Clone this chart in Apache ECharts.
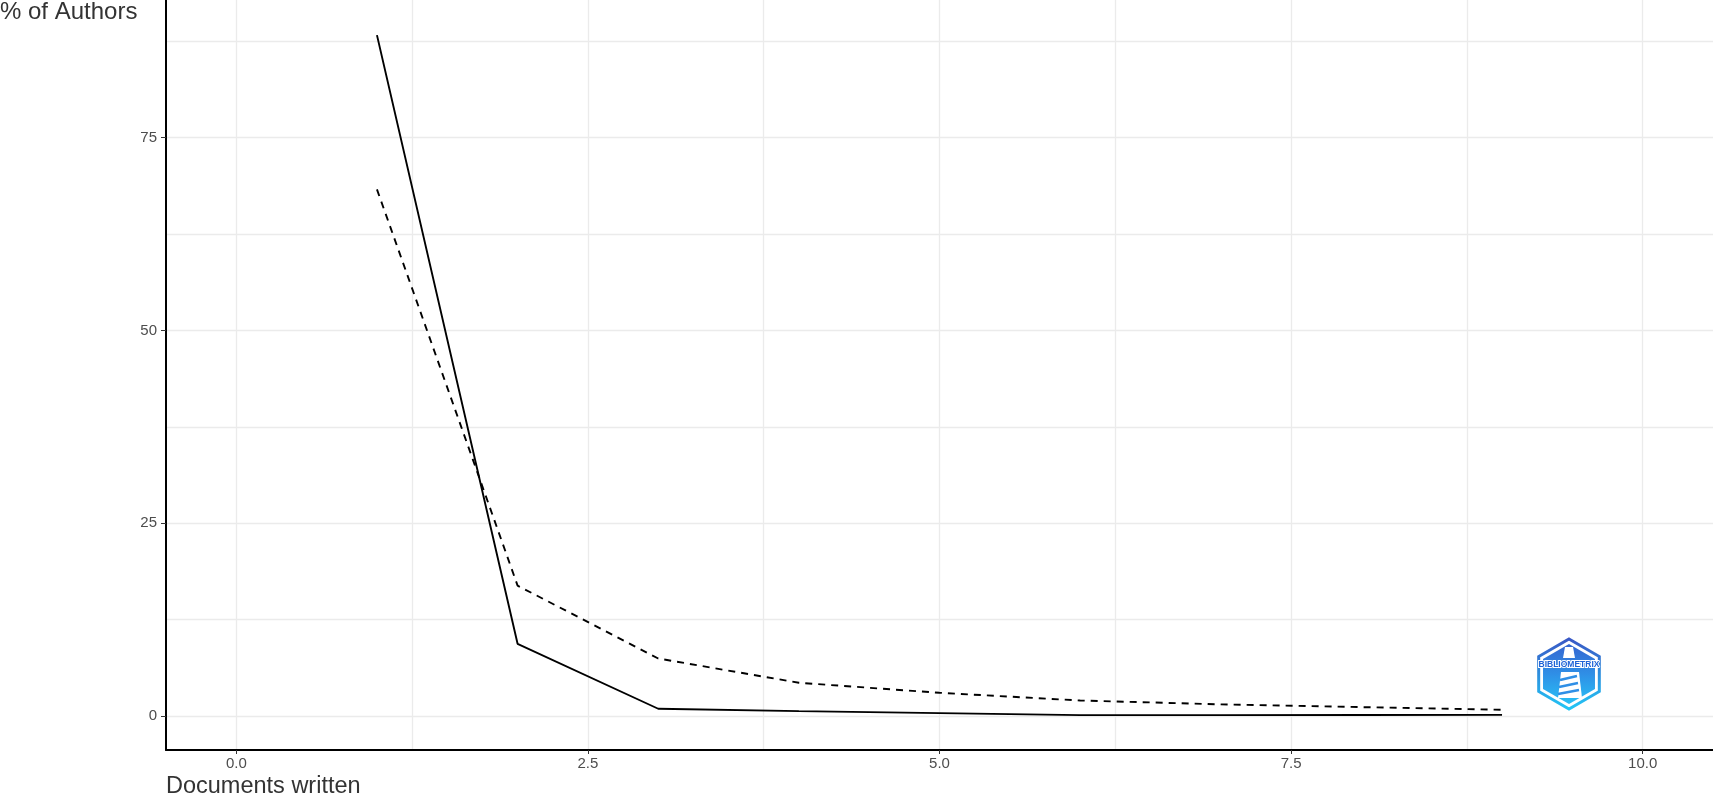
<!DOCTYPE html>
<html>
<head>
<meta charset="utf-8">
<script src="https://cdn.jsdelivr.net/npm/echarts@6/dist/echarts.min.js"></script>
<style>
html,body{margin:0;padding:0;background:#fff;}
#chart{width:1713px;height:797px;}
</style>
</head>
<body>
<div id="chart"></div>
<script>
// Data
const docsWritten = [1, 2, 3, 4, 5, 6, 7, 8, 9];
const observedPct = [88.3, 9.35, 0.93, 0.62, 0.36, 0.1, 0.1, 0.12, 0.14];
const theoreticalPct = [68.3, 16.9, 7.45, 4.3, 3.0, 2.0, 1.5, 1.14, 0.8];
const xTickValues = [0, 2.5, 5, 7.5, 10];
const yTickValues = [0, 25, 50, 75];
const xGridValues = [0, 1.25, 2.5, 3.75, 5, 6.25, 7.5, 8.75, 10];
const yGridValues = [0, 12.5, 25, 37.5, 50, 62.5, 75, 87.5];
const xTitle = 'Documents written';
const yTitle = '% of Authors';

const FONT = 'Arial, "Liberation Sans", sans-serif';
const chart = echarts.init(document.getElementById('chart'), null, {renderer: 'canvas'});

const pair = (xs, ys) => xs.map((x, i) => [x, ys[i]]);

// logo hexagon helper
function hex(cx, cy, r) {
  const pts = [];
  for (let k = 0; k < 6; k++) {
    const a = (-90 + 60 * k) * Math.PI / 180;
    pts.push([cx + r * Math.cos(a), cy + r * Math.sin(a)]);
  }
  return pts;
}
const LX = 1569, LY = 674;

const option = {
  animation: false,
  backgroundColor: '#ffffff',
  grid: {left: 166, right: 0, top: 0, bottom: 47, containLabel: false},
  xAxis: {
    type: 'value', min: -0.5, max: 10.5,
    axisLine: {show: true, onZero: false, lineStyle: {color: '#000', width: 2}},
    axisTick: {show: true, customValues: xTickValues, length: 4, lineStyle: {color: '#333', width: 1}},
    axisLabel: {show: true, customValues: xTickValues, margin: 6, color: '#4d4d4d', fontSize: 15, fontFamily: FONT,
      formatter: v => Number(v).toFixed(1)},
    splitLine: {show: false}
  },
  yAxis: {
    type: 'value', min: -4.42, max: 92.86,
    axisLine: {show: true, onZero: false, lineStyle: {color: '#000', width: 2}},
    axisTick: {show: true, customValues: yTickValues, length: 5, lineStyle: {color: '#333', width: 1}},
    axisLabel: {show: true, customValues: yTickValues, margin: 9, color: '#4d4d4d', fontSize: 15, fontFamily: FONT,
      formatter: v => String(v)},
    splitLine: {show: false}
  },
  series: [
    {
      name: 'grid', type: 'line', data: [], silent: true, z: 0,
      markLine: {
        silent: true, symbol: 'none', z: 0, animation: false,
        label: {show: false},
        lineStyle: {color: '#ebebeb', width: 1.3, type: 'solid'},
        emphasis: {disabled: true},
        data: xGridValues.map(v => ({xAxis: v})).concat(yGridValues.map(v => ({yAxis: v})))
      }
    },
    {
      name: 'Observed', type: 'line', data: pair(docsWritten, observedPct), z: 3,
      showSymbol: false, symbol: 'none',
      lineStyle: {color: '#000', width: 1.9, type: 'solid'}
    },
    {
      name: 'Theoretical', type: 'line', data: pair(docsWritten, theoreticalPct), z: 3,
      showSymbol: false, symbol: 'none',
      lineStyle: {color: '#000', width: 1.9, type: [7, 6]}
    }
  ],
  graphic: [
    {type: 'text', left: 0, top: 0, z: 10,
      style: {text: yTitle, x: 0, y: 11.5, font: '24px ' + FONT, fill: '#333', verticalAlign: 'middle', align: 'left'}},
    {type: 'text', z: 10,
      style: {text: xTitle, x: 166, y: 787, font: '23.5px ' + FONT, fill: '#333', verticalAlign: 'middle', align: 'left'}},
    // BIBLIOMETRIX logo
    {type: 'polygon', z: 10, shape: {points: hex(LX, LY, 35)},
      style: {fill: 'none', lineWidth: 3,
        stroke: new echarts.graphic.LinearGradient(0, 0, 0, 1, [{offset: 0, color: '#3a55c4'}, {offset: 1, color: '#22c9f7'}])}},
    {type: 'polygon', z: 10, shape: {points: hex(LX, LY, 30)},
      style: {fill: new echarts.graphic.LinearGradient(0, 0, 0, 1, [{offset: 0, color: '#3565d0'}, {offset: 0.5, color: '#2f8fe6'}, {offset: 1, color: '#28c0f5'}])}},
    {type: 'polygon', z: 11, shape: {points: [[LX - 4, LY - 27], [LX + 4, LY - 27], [LX + 6, LY - 16], [LX - 6, LY - 16]]},
      style: {fill: '#ffffff'}},
    {type: 'polygon', z: 11, shape: {points: [[LX - 8, LY - 2], [LX + 10, LY - 2], [LX + 13, LY + 24], [LX - 11, LY + 24]]},
      style: {fill: '#ffffff'}},
    {type: 'polyline', z: 12, shape: {points: [[LX - 9, LY + 6], [LX + 8, LY + 2]]}, style: {stroke: '#2f8fe6', lineWidth: 2.5}},
    {type: 'polyline', z: 12, shape: {points: [[LX - 10, LY + 13], [LX + 9, LY + 9]]}, style: {stroke: '#2f8fe6', lineWidth: 2.5}},
    {type: 'polyline', z: 12, shape: {points: [[LX - 11, LY + 20], [LX + 10, LY + 16]]}, style: {stroke: '#2f8fe6', lineWidth: 2.5}},
    {type: 'text', z: 13,
      style: {text: 'BIBLIOMETRIX', x: LX, y: LY - 9, font: 'bold 8.5px ' + FONT, fill: '#1e63d6', stroke: '#ffffff', lineWidth: 2,
        align: 'center', verticalAlign: 'middle'}}
  ]
};
chart.setOption(option);
</script>
</body>
</html>
